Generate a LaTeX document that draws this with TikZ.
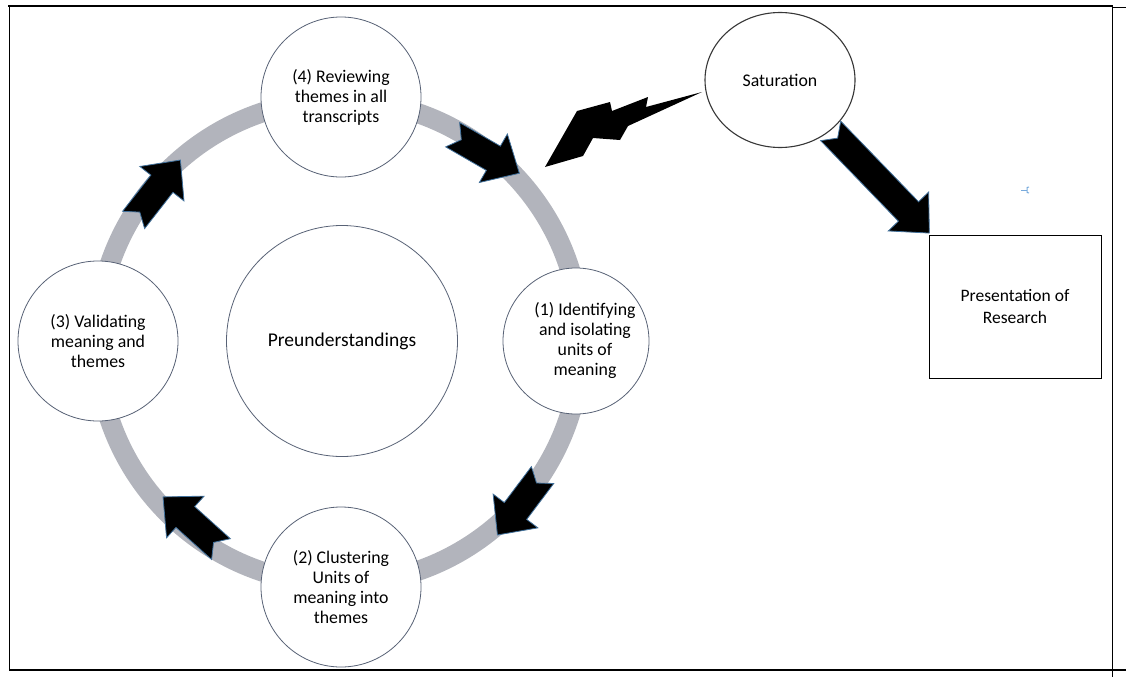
\documentclass[tikz,border=0pt]{standalone}
\usepackage{fontspec}
\setmainfont{Carlito}
\usetikzlibrary{shapes.geometric}
\definecolor{ringgray}{RGB}{178,180,188}
\definecolor{circleline}{RGB}{88,98,118}
\definecolor{arrowedge}{RGB}{65,113,156}
\definecolor{markblue}{RGB}{120,170,220}
\tikzset{
  smalltext/.style={font=\fontsize{17.8}{20}\selectfont},
  stage/.style={circle, draw=circleline, line width=0.8pt, fill=white, inner sep=0pt,
    align=center, smalltext},
  blockarrow/.style={fill=black, draw=arrowedge, line width=0.8pt, line join=miter},
  pics/notched/.style={code={
    \draw[blockarrow] (-#1/2,14) -- (#1/2-30,14) -- (#1/2-30,28) -- (#1/2,0)
      -- (#1/2-30,-28) -- (#1/2-30,-14) -- (-#1/2,-14) -- (-#1/2+10,0) -- cycle;
  }},
}
\begin{document}
\begin{tikzpicture}[x=1pt,y=-1pt]
\useasboundingbox (0,0) rectangle (1126,677);
% frame
\draw[line width=2.6pt] (8,6) -- (1113,6);
\draw[line width=0.8pt] (1113,7.5) -- (1126,7.5);
\draw[line width=1pt] (9,6) -- (9,670);
\draw[line width=1pt] (1112,6) -- (1112,677);
\draw[line width=1.3pt] (9,670) -- (1126,670);
% ring
\draw[ringgray, line width=20pt] (339,342) circle[radius=242];
% stage circles
\node[stage, minimum size=160] (c4) at (341,97) {(4) Reviewing\\themes in all\\transcripts};
\node[stage, minimum size=146] (c1) at (576,341) {};
\node[align=center, smalltext, inner sep=0pt] (c1text) at ([xshift=9]c1.center) {(1) Identifying\\and isolating\\units of\\meaning};
\node[stage, minimum size=160] (c2) at (341,587) {(2) Clustering\\Units of\\meaning into\\themes};
\node[stage, minimum size=160] (c3) at (98,341) {(3) Validating\\meaning and\\themes};
\node[stage, minimum size=231, font=\fontsize{19.5}{22}\selectfont] (pre) at (342,341) {Preunderstandings};
% saturation and presentation
\node[ellipse, draw={rgb,255:red,55;green,55;blue,55}, line width=1.1pt, fill=white,
  minimum width=150, minimum height=135, inner sep=0pt, smalltext]
  (sat) at (780,80) {Saturation};
\node[rectangle, draw=black, line width=0.8pt, minimum width=172, minimum height=143,
  align=center, inner sep=0pt, font=\fontsize{17.5}{22}\selectfont]
  (pres) at (1015,306.5) {Presentation of\\Research};
% cycle arrows
\pic[rotate=-30] at (486,154) {notched=77};
\pic[rotate=233] at (520,505) {notched=75};
\pic[rotate=138] at (192,523) {notched=78};
\pic[rotate=52] at (157,190) {notched=76};
% saturation to presentation arrow
\pic[rotate=-46] at (880,182) {notched=142};
% lightning bolt
\fill[black] (545,167) -- (577,111) -- (610,102) -- (612,111) -- (648,97) -- (646,107)
  -- (702,92) -- (628,126) -- (620,140) -- (593,138) -- (583,156) -- cycle;
% small mark
\draw[markblue, line width=1pt] (1021,190) -- (1027,190);
\draw[markblue, line width=1pt] (1029,187) -- (1027,187.5) -- (1027,192.5) -- (1029,193);
\end{tikzpicture}
\end{document}
